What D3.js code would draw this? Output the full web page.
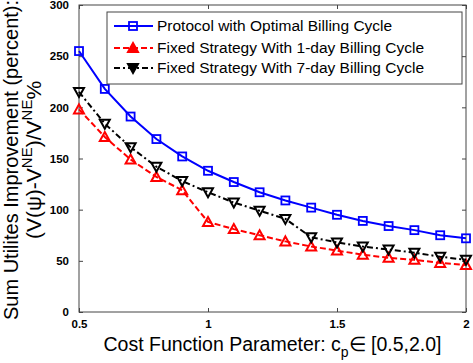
<!DOCTYPE html>
<html>
<head>
<meta charset="utf-8">
<script src="https://cdn.jsdelivr.net/npm/d3@7"></script>
<style>
  body { margin: 0; background: #fff; }
  svg { font-family: "Liberation Sans", Arial, sans-serif; }
</style>
</head>
<body>
<div id="chart"></div>
<script>
// cost parameter c_p
const cp = [0.5, 0.6, 0.7, 0.8, 0.9, 1.0, 1.1, 1.2, 1.3, 1.4, 1.5, 1.6, 1.7, 1.8, 1.9, 2.0];

const optimal = [255, 218, 191, 169, 152, 138, 127, 117, 109, 102, 95, 89, 84, 80, 75, 72];
const fixed1day = [198, 171, 149, 132, 119, 88, 81, 75, 69, 64, 60, 56, 53, 51, 48, 46];
const fixed7day = [215, 184, 161, 142, 128, 117, 107, 99, 91, 73, 68, 64, 61, 58, 54, 51];

const xTicks = [0.5, 1, 1.5, 2];
const yTicks = [0, 50, 100, 150, 200, 250, 300];

const seriesNames = [
  "Protocol with Optimal Billing Cycle",
  "Fixed Strategy With 1-day Billing Cycle",
  "Fixed Strategy With 7-day Billing Cycle"
];

const width = 473, height = 363;
const margin = {top: 5, right: 7, bottom: 51, left: 79};
const w = width - margin.left - margin.right;
const h = height - margin.top - margin.bottom;

const svg = d3.select("#chart").append("svg")
  .attr("width", width)
  .attr("height", height);

const g = svg.append("g").attr("transform", `translate(${margin.left},${margin.top})`);

const x = d3.scaleLinear().domain([0.5, 2]).range([0, w]);
const y = d3.scaleLinear().domain([0, 300]).range([h, 0]);

const axisColor = "#444";

// box
g.append("rect")
  .attr("width", w).attr("height", h)
  .attr("fill", "none").attr("stroke", axisColor).attr("stroke-width", 1);

// inward ticks on all four sides
const tickLen = 4;
const styleAxis = sel => {
  sel.select(".domain").remove();
  sel.selectAll(".tick line").attr("stroke", axisColor);
};

g.append("g").attr("transform", `translate(0,${h})`)
  .call(d3.axisBottom(x).tickValues(xTicks).tickSizeInner(-tickLen).tickSizeOuter(0)
    .tickPadding(8).tickFormat(d3.format("")))
  .call(styleAxis)
  .selectAll("text").attr("font-size", 11.5).attr("font-weight", "bold").attr("fill", "#000");

g.append("g")
  .call(d3.axisTop(x).tickValues(xTicks).tickSizeInner(-tickLen).tickSizeOuter(0).tickFormat(""))
  .call(styleAxis);

g.append("g")
  .call(d3.axisLeft(y).tickValues(yTicks).tickSizeInner(-tickLen).tickSizeOuter(0).tickPadding(10))
  .call(styleAxis)
  .selectAll("text").attr("font-size", 11.5).attr("font-weight", "bold").attr("fill", "#000");

g.append("g").attr("transform", `translate(${w},0)`)
  .call(d3.axisRight(y).tickValues(yTicks).tickSizeInner(-tickLen).tickSizeOuter(0).tickFormat(""))
  .call(styleAxis);

// series
const series = [
  {name: seriesNames[0], values: optimal, color: "#0000ff", dash: null, marker: "square"},
  {name: seriesNames[1], values: fixed1day, color: "#ff0000", dash: "6,3", marker: "up"},
  {name: seriesNames[2], values: fixed7day, color: "#000000", dash: "6,3,2,3", marker: "down"}
];

const line = d3.line().x((d, i) => x(cp[i])).y(d => y(d));

function drawMarker(sel, type, color, fill) {
  if (type === "square") {
    sel.append("rect")
      .attr("x", -4).attr("y", -4).attr("width", 8).attr("height", 8)
      .attr("fill", "none").attr("stroke", color).attr("stroke-width", 1.8);
  } else if (type === "up") {
    sel.append("path").attr("d", "M0,-5L5,4L-5,4Z")
      .attr("fill", fill).attr("stroke", color).attr("stroke-width", 2);
  } else {
    sel.append("path").attr("d", "M0,5L5,-4L-5,-4Z")
      .attr("fill", fill).attr("stroke", color).attr("stroke-width", 2);
  }
}

series.forEach(s => {
  g.append("path")
    .datum(s.values)
    .attr("d", line)
    .attr("fill", "none")
    .attr("stroke", s.color)
    .attr("stroke-width", 2)
    .attr("stroke-dasharray", s.dash);
  g.selectAll(null)
    .data(s.values)
    .enter().append("g")
    .attr("transform", (d, i) => `translate(${x(cp[i])},${y(d)})`)
    .each(function() { drawMarker(d3.select(this), s.marker, s.color, "none"); });
});

// legend
const legend = g.append("g").attr("transform", "translate(28,7)");
legend.append("rect")
  .attr("width", 355).attr("height", 72)
  .attr("fill", "#fff").attr("stroke", axisColor).attr("stroke-width", 1);

const rowY = [14, 36, 56];
series.forEach((s, i) => {
  const row = legend.append("g").attr("transform", `translate(0,${rowY[i]})`);
  row.append("line")
    .attr("x1", 7).attr("x2", 46).attr("y1", 0).attr("y2", 0)
    .attr("stroke", s.color).attr("stroke-width", 2)
    .attr("stroke-dasharray", s.dash);
  const m = row.append("g").attr("transform", "translate(26,0)");
  drawMarker(m, s.marker, s.color, s.color);
  row.append("text")
    .attr("x", 50).attr("y", 0).attr("dy", "0.35em")
    .attr("font-size", 15.5).attr("fill", "#000")
    .text(s.name);
});

// x label
const xl = svg.append("text")
  .attr("x", margin.left + w / 2).attr("y", 351)
  .attr("text-anchor", "middle").attr("font-size", 19.5).attr("fill", "#000");
xl.append("tspan").text("Cost Function Parameter: c");
xl.append("tspan").attr("font-size", 14).attr("dy", 6).text("p");
xl.append("tspan").attr("dy", -6).text("\u2208 [0.5,2.0]");

// y label, two lines
svg.append("text")
  .attr("transform", "translate(18,160) rotate(-90)")
  .attr("text-anchor", "middle").attr("font-size", 20).attr("fill", "#000")
  .text("Sum Utilites Improvement (percent):");

const yl2 = svg.append("text")
  .attr("transform", "translate(41,160) rotate(-90)")
  .attr("text-anchor", "middle").attr("font-size", 21).attr("fill", "#000");
yl2.append("tspan").text("(V(\u03c8)-V");
yl2.append("tspan").attr("font-size", 15).attr("dy", -9).text("NE");
yl2.append("tspan").attr("dy", 9).text(")/V");
yl2.append("tspan").attr("font-size", 15).attr("dy", -9).text("NE");
yl2.append("tspan").attr("dy", 9).text("%");
</script>
</body>
</html>
